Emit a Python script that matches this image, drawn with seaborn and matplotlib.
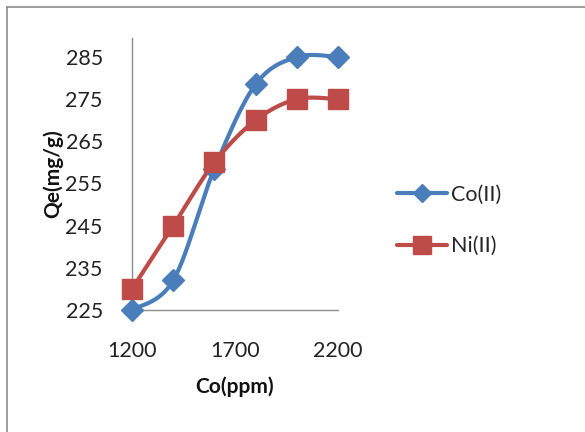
import numpy as np
import pandas as pd
import matplotlib
matplotlib.use("Agg")
import matplotlib.pyplot as plt
import seaborn as sns
from matplotlib.lines import Line2D

# ---- data ----
conc = [1200, 1400, 1600, 1800, 2000, 2200]
co_vals = [225, 232, 258.5, 278.5, 285, 285]
ni_vals = [230, 245, 260, 270, 275, 275]
series_names = ["Co(II)", "Ni(II)"]
y_ticks = [225, 235, 245, 255, 265, 275, 285]
x_ticks = [1200, 1700, 2200]

BLUE = "#4A7EBB"
RED = "#BE4B48"


def smooth(xs, ys, n=40):
    """Excel-like smoothed line: cubic Bezier with Catmull-Rom control points."""
    P = np.column_stack([xs, ys]).astype(float)
    P_ext = np.vstack([P[0], P, P[-1]])
    out = []
    t = np.linspace(0, 1, n)[:, None]
    for i in range(len(P) - 1):
        p0, p1, p2, p3 = P_ext[i], P_ext[i + 1], P_ext[i + 2], P_ext[i + 3]
        c1 = p1 + (p2 - p0) / 6.0
        c2 = p2 - (p3 - p1) / 6.0
        seg = ((1 - t) ** 3) * p1 + 3 * ((1 - t) ** 2) * t * c1 + 3 * (1 - t) * t ** 2 * c2 + t ** 3 * p2
        out.append(seg if i == 0 else seg[1:])
    arr = np.vstack(out)
    return arr[:, 0], arr[:, 1]


sns.set_style("white")
plt.rcParams["font.family"] = ["Lato", "DejaVu Sans"]

fig = plt.figure(figsize=(5.85, 4.32), dpi=100)
ax = fig.add_axes([132 / 585, 1 - 310 / 432, 206 / 585, 272 / 432])

# chart-area border (Excel style)
fig.add_artist(Line2D([7 / 585, 7 / 585], [0, 1 - 7 / 432], transform=fig.transFigure, color="#8c8c8c", lw=1.2))
fig.add_artist(Line2D([7 / 585, 1], [1 - 7 / 432, 1 - 7 / 432], transform=fig.transFigure, color="#8c8c8c", lw=1.2))

colors = [BLUE, RED]
markers = ["D", "s"]
msizes = [11, 15]
LW = 3.0
for name, vals, c, m, ms in zip(series_names, [co_vals, ni_vals], colors, markers, msizes):
    sx, sy = smooth(conc, vals)
    df_line = pd.DataFrame({"x": sx, "y": sy})
    sns.lineplot(data=df_line, x="x", y="y", sort=False, estimator=None, color=c, lw=LW, ax=ax, clip_on=False)
    df_pts = pd.DataFrame({"x": conc, "y": vals})
    ax.plot(df_pts["x"], df_pts["y"], linestyle="none", marker=m, ms=ms, color=c, mec=c, clip_on=False, zorder=5)

ax.set_xlim(1200, 2200)
ax.set_ylim(225, 289.5)
ax.set_xticks(x_ticks)
ax.set_yticks(y_ticks)
ax.tick_params(axis="both", which="major", labelsize=15.5, colors="#222222", length=7, width=1, direction="out")
ax.tick_params(axis="y", pad=14, color="#8c8c8c")
ax.tick_params(axis="x", pad=15, color="#8c8c8c")
for s in ["top", "right"]:
    ax.spines[s].set_visible(False)
for s in ["left", "bottom"]:
    ax.spines[s].set_color("#8c8c8c")
    ax.spines[s].set_linewidth(1)

ax.set_xlabel("Co(ppm)", fontsize=15, fontweight="bold", color="#111111")
ax.set_ylabel("Qe(mg/g)", fontsize=15, fontweight="bold", color="#111111")
ax.xaxis.set_label_coords(0.5, -0.245)
ax.yaxis.set_label_coords(-0.335, 0.5)

handles = [Line2D([0], [0], color=c, lw=LW, marker=m, ms=ms * 0.85, mec=c) for c, m, ms in zip(colors, markers, msizes)]
fig.legend(handles, series_names, loc="upper left", bbox_to_anchor=(397 / 585, 1 - 185 / 432),
           frameon=False, fontsize=15.5, handlelength=2.3, handletextpad=0.2, labelspacing=1.45,
           borderpad=0, borderaxespad=0)

fig.savefig("out.png", dpi=100)
